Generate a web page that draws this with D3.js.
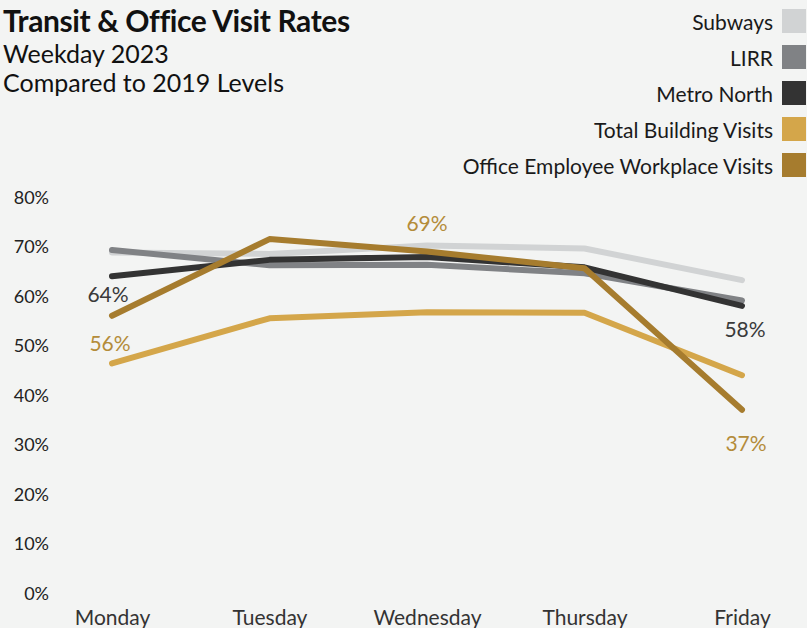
<!DOCTYPE html>
<html>
<head>
<meta charset="utf-8">
<script src="https://cdn.jsdelivr.net/npm/d3@7"></script>
<style>
  html, body { margin: 0; padding: 0; background: #f3f4f3; }
  svg { display: block; font-family: Lato, "Open Sans", sans-serif; }
</style>
</head>
<body>
<svg id="chart" width="807" height="628"></svg>
<script>
// Weekday visit rates, 2023 as a percent of 2019 levels
const days = ["Monday", "Tuesday", "Wednesday", "Thursday", "Friday"];
const subways = [68.8, 68.5, 70.2, 69.6, 63.2];
const lirr = [69.3, 66.2, 66.3, 64.6, 59.1];
const metroNorth = [64, 67.3, 67.9, 65.8, 58];
const totalBuildingVisits = [46.4, 55.5, 56.7, 56.6, 44.0];
const officeEmployeeVisits = [56, 71.5, 69, 65.6, 37];
const yTicks = [0, 10, 20, 30, 40, 50, 60, 70, 80];

const seriesNames = ["Subways", "LIRR", "Metro North", "Total Building Visits", "Office Employee Workplace Visits"];
const seriesValues = [subways, lirr, metroNorth, totalBuildingVisits, officeEmployeeVisits];
const seriesColors = ["#d1d3d4", "#808285", "#333333", "#d4a64a", "#a67c2e"];

// Value callouts: series index, day index, vertical offset of the baseline
const callouts = [
  { s: 2, d: 0, dy: 26, dx: -4, color: "#3a3a3a" },
  { s: 4, d: 0, dy: 35, dx: -2, color: "#b48c3a" },
  { s: 4, d: 2, dy: -20, dx: 0, color: "#b48c3a" },
  { s: 2, d: 4, dy: 31, dx: 3, color: "#3a3a3a" },
  { s: 4, d: 4, dy: 41, dx: 4, color: "#b48c3a" }
];

const svg = d3.select("#chart");

const x = d3.scalePoint().domain(days).range([112, 742]);
const y = d3.scaleLinear().domain([0, 80]).range([593, 197]);

// Title block
svg.append("text").attr("x", 3).attr("y", 32)
  .attr("font-size", 30).attr("font-weight", 700).attr("fill", "#111")
  .attr("letter-spacing", -0.4)
  .text("Transit & Office Visit Rates");
svg.append("text").attr("x", 3).attr("y", 63)
  .attr("font-size", 25).attr("fill", "#111")
  .text("Weekday 2023");
svg.append("text").attr("x", 3).attr("y", 92)
  .attr("font-size", 25).attr("fill", "#111")
  .text("Compared to 2019 Levels");

// Y axis labels
const yAxis = d3.axisLeft(y).tickValues(yTicks).tickSize(0).tickPadding(0)
  .tickFormat(d => d + "%");
svg.append("g").attr("transform", "translate(49,0)").call(yAxis)
  .call(g => g.select(".domain").remove())
  .call(g => g.selectAll("text")
    .attr("font-family", "Lato, sans-serif")
    .attr("font-size", 18).attr("fill", "#222").attr("dy", "0.35em"));

// X axis labels
const xAxis = d3.axisBottom(x).tickSize(0).tickPadding(0);
svg.append("g").attr("transform", "translate(0,609)").call(xAxis)
  .call(g => g.select(".domain").remove())
  .call(g => g.selectAll("text")
    .attr("font-family", "Lato, sans-serif")
    .attr("font-size", 21).attr("fill", "#333").attr("dy", "0.75em"));

// Lines
const line = d3.line()
  .x((d, i) => x(days[i]))
  .y(d => y(d));

svg.append("g").selectAll("path")
  .data(seriesValues)
  .join("path")
  .attr("d", d => line(d))
  .attr("fill", "none")
  .attr("stroke", (d, i) => seriesColors[i])
  .attr("stroke-width", 6)
  .attr("stroke-linecap", "round")
  .attr("stroke-linejoin", "round");

// Value callouts
svg.append("g").selectAll("text")
  .data(callouts)
  .join("text")
  .attr("x", c => x(days[c.d]) + c.dx)
  .attr("y", c => y(seriesValues[c.s][c.d]) + c.dy)
  .attr("text-anchor", "middle")
  .attr("font-size", 21)
  .attr("fill", c => c.color)
  .text(c => Math.round(seriesValues[c.s][c.d]) + "%");

// Legend
const legend = svg.append("g").selectAll("g")
  .data(seriesNames)
  .join("g")
  .attr("transform", (d, i) => `translate(0,${9 + i * 36})`);
legend.append("rect")
  .attr("x", 782).attr("y", 0).attr("width", 24).attr("height", 24)
  .attr("fill", (d, i) => seriesColors[i]);
legend.append("text")
  .attr("x", 773).attr("y", 21)
  .attr("text-anchor", "end")
  .attr("font-size", 21).attr("fill", "#1a1a1a")
  .text(d => d);
</script>
</body>
</html>
